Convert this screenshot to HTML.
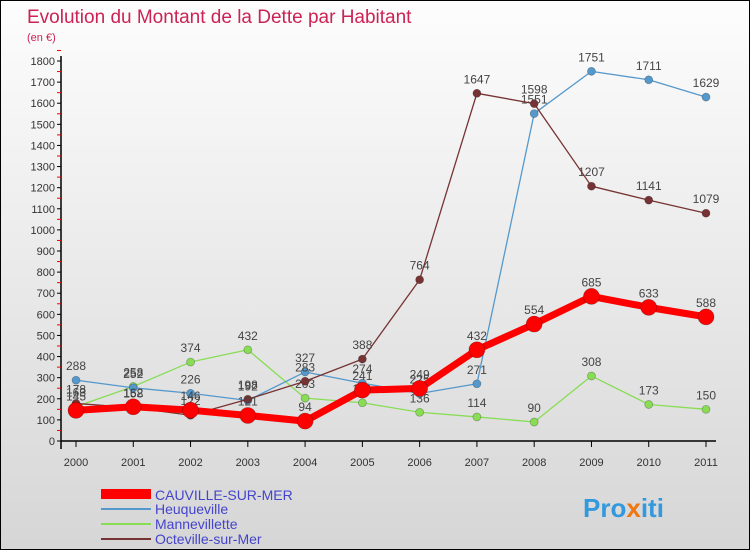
<!DOCTYPE html>
<html><head><meta charset="utf-8"><style>
body{margin:0;width:750px;height:550px;overflow:hidden;font-family:"Liberation Sans",sans-serif;}
#wrap{position:relative;width:748px;height:548px;border:1px solid #000;background:linear-gradient(#fdfdfd,#d6d6d6);}
</style></head><body>
<div id="wrap">
<svg id="chart" width="748" height="548">
<text x="26" y="22" font-size="19" fill="#cc2255">Evolution du Montant de la Dette par Habitant</text>
<text x="26" y="40" font-size="11" fill="#cc2255">(en €)</text>
<g id="axes"></g><g id="series"></g>
<g>
<rect x="100" y="488" width="50" height="10" fill="#ff0000"/>
<text x="154" y="499" font-size="14" fill="#4444cc">CAUVILLE-SUR-MER</text>
<line x1="100" y1="508" x2="150" y2="508" stroke="#5599cc" stroke-width="2"/>
<text x="154" y="513" font-size="14" fill="#4444cc">Heuqueville</text>
<line x1="100" y1="523" x2="150" y2="523" stroke="#88dd55" stroke-width="2"/>
<text x="154" y="528" font-size="14" fill="#4444cc">Mannevillette</text>
<line x1="100" y1="538" x2="150" y2="538" stroke="#773333" stroke-width="2"/>
<text x="154" y="543" font-size="14" fill="#4444cc">Octeville-sur-Mer</text>
</g>
<text x="582" y="516" font-size="26" font-weight="bold" fill="#3399dd">Pro<tspan fill="#ee7711">x</tspan>iti</text>
</svg>
</div>
<script>
const years=[2000,2001,2002,2003,2004,2005,2006,2007,2008,2009,2010,2011];
const yTicks=[0,100,200,300,400,500,600,700,800,900,1000,1100,1200,1300,1400,1500,1600,1700,1800];
const cauville=[145,162,146,121,94,241,249,432,554,685,633,588];
const heuqueville=[288,252,226,192,327,274,225,271,1551,1751,1711,1629];
const mannevillette=[163,258,374,432,203,181,136,114,90,308,173,150];
const octeville=[178,158,122,198,283,388,764,1647,1598,1207,1141,1079];
const NS='http://www.w3.org/2000/svg';
const X=i=>75+i*(630/11);
const Y=v=>440-v*(380/1800);
function mk(tag,attrs,parent){const e=document.createElementNS(NS,tag);for(const k in attrs)e.setAttribute(k,attrs[k]);parent.appendChild(e);return e;}
const ax=document.getElementById('axes');
let l=mk('line',{x1:60,y1:Y(1800)-5,x2:60,y2:Y(0)+8,stroke:'#000','stroke-width':1.5},ax);


l=mk('line',{x1:60,y1:Y(0),x2:715,y2:Y(0),stroke:'#000','stroke-width':1.5},ax);


yTicks.forEach(v=>{
 mk('line',{x1:56,y1:Y(v),x2:60,y2:Y(v),stroke:'#000'},ax);
 mk('line',{x1:56,y1:Y(v+50),x2:60,y2:Y(v+50),stroke:'#e00'},ax);
 const t=mk('text',{x:54,y:Y(v)+4,'font-size':11,fill:'#333','text-anchor':'end'},ax);
 t.textContent=v;
 
 
});
years.forEach((yr,i)=>{
 mk('line',{x1:X(i),y1:Y(0),x2:X(i),y2:Y(0)+6,stroke:'#000'},ax);
 const t=mk('text',{x:X(i),y:Y(0)+25,'font-size':11,fill:'#333','text-anchor':'middle'},ax);
 t.textContent=yr;
 
 
});
const sg=document.getElementById('series');
function draw(data,color,w,r,name){
 const g=mk('g',{},sg);
 
 
 const p=mk('polyline',{points:data.map((v,i)=>X(i)+','+Y(v)).join(' '),fill:'none',stroke:color,'stroke-width':w,'stroke-linejoin':'round'},g);
 
 
 data.forEach((v,i)=>{
  const c=mk('circle',{cx:X(i),cy:Y(v),r:r,fill:color,stroke:'rgba(0,0,0,0.3)','stroke-width':0.7},g);
  
  
  const t=mk('text',{x:X(i),y:Y(v)-10,'font-size':12,fill:'#444','text-anchor':'middle'},g);
  t.textContent=v;
  
  
 });
}
draw(mannevillette,'#88dd55',1.3,4,'mannevillette');
draw(heuqueville,'#5599cc',1.3,4,'heuqueville');
draw(octeville,'#773333',1.3,4,'octeville');
draw(cauville,'#ff0000',7,8,'cauville');
</script>
</body></html>
